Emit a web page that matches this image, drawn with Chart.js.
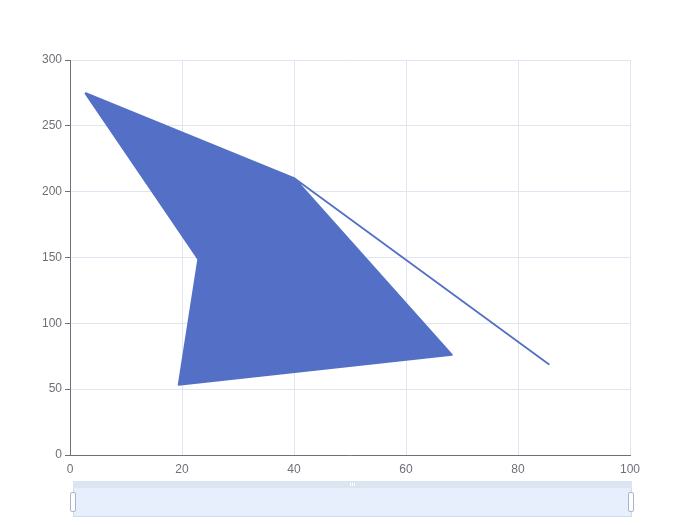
<!DOCTYPE html>
<html>
<head>
<meta charset="utf-8">
<script src="https://cdn.jsdelivr.net/npm/chart.js@4"></script>
<style>
  body { margin: 0; background: #fff; }
  .wrap { position: relative; width: 700px; height: 525px; }
  .slider { position: absolute; left: 73px; top: 481px; width: 559px; height: 36px; }
  .slider .bar { position: absolute; left: 0; top: 0; width: 100%; height: 7px; background: #dde4f1; }
  .slider .grip { position: absolute; left: 277px; top: 2px; width: 5px; height: 3px;
    border-left: 1px solid #fff; border-right: 1px solid #fff; box-sizing: border-box; }
  .slider .grip::after { content: ''; position: absolute; left: 1px; top: 0; width: 1px; height: 3px; background: #fff; }
  .slider .body { position: absolute; left: 0; top: 7px; width: 100%; height: 29px; background: #e7eefc;
    border-left: 1px solid #d2dbee; border-right: 1px solid #d2dbee; border-bottom: 1px solid #d2dbee; box-sizing: border-box; }
  .slider .h { position: absolute; top: 11px; width: 6px; height: 20px; background: #fff;
    border: 1px solid #a9b4c8; border-radius: 2px; box-sizing: border-box; }
</style>
</head>
<body>
<div class="wrap">
  <canvas id="c" width="700" height="525"></canvas>
  <div class="slider">
    <div class="bar"><div class="grip"></div></div>
    <div class="body"></div>
    <div class="h" style="left:-3px"></div>
    <div class="h" style="left:555px"></div>
  </div>
</div>
<script>
const xValues = [2.7, 40, 85.5, 40, 68.2, 19.4, 22.9, 2.7];
const yValues = [275, 210.4, 69, 210.4, 76, 53.3, 148.7, 275];
const xTicks = [0, 20, 40, 60, 80, 100];
const yTicks = [0, 50, 100, 150, 200, 250, 300];

const axisColor = '#6e7079';
const gridColor = '#e0e6f1';
const font = { family: 'Liberation Sans, Arial, sans-serif', size: 12 };

const canvas = document.getElementById('c');
const chart = new Chart(canvas, {
  type: 'scatter',
  data: {
    datasets: [{
      data: xValues.map((x, i) => ({ x: x, y: yValues[i] })),
      showLine: true,
      fill: 'shape',
      backgroundColor: '#5470c6',
      borderColor: '#5470c6',
      borderWidth: 1.8,
      borderJoinStyle: 'round',
      pointRadius: 0,
      tension: 0
    }]
  },
  options: {
    responsive: false,
    animation: false,
    layout: { padding: { top: 60, right: 70, left: 0, bottom: 0 } },
    plugins: { legend: { display: false }, tooltip: { enabled: false } },
    scales: {
      x: {
        type: 'linear', min: 0, max: 100,
        afterBuildTicks: s => { s.ticks = xTicks.map(v => ({ value: v })); },
        afterFit: s => { s.height = 70; },
        grid: { color: gridColor, tickColor: 'rgba(0,0,0,0)', tickLength: 5 },
        border: { color: axisColor },
        ticks: { color: axisColor, font: font, padding: 2, maxRotation: 0 }
      },
      y: {
        type: 'linear', min: 0, max: 300,
        afterBuildTicks: s => { s.ticks = yTicks.map(v => ({ value: v })); },
        afterFit: s => { s.width = 70; },
        grid: { color: gridColor, tickColor: axisColor, tickLength: 5 },
        border: { color: axisColor },
        ticks: { color: axisColor, font: font, padding: 3 }
      }
    }
  }
});
</script>
</body>
</html>
